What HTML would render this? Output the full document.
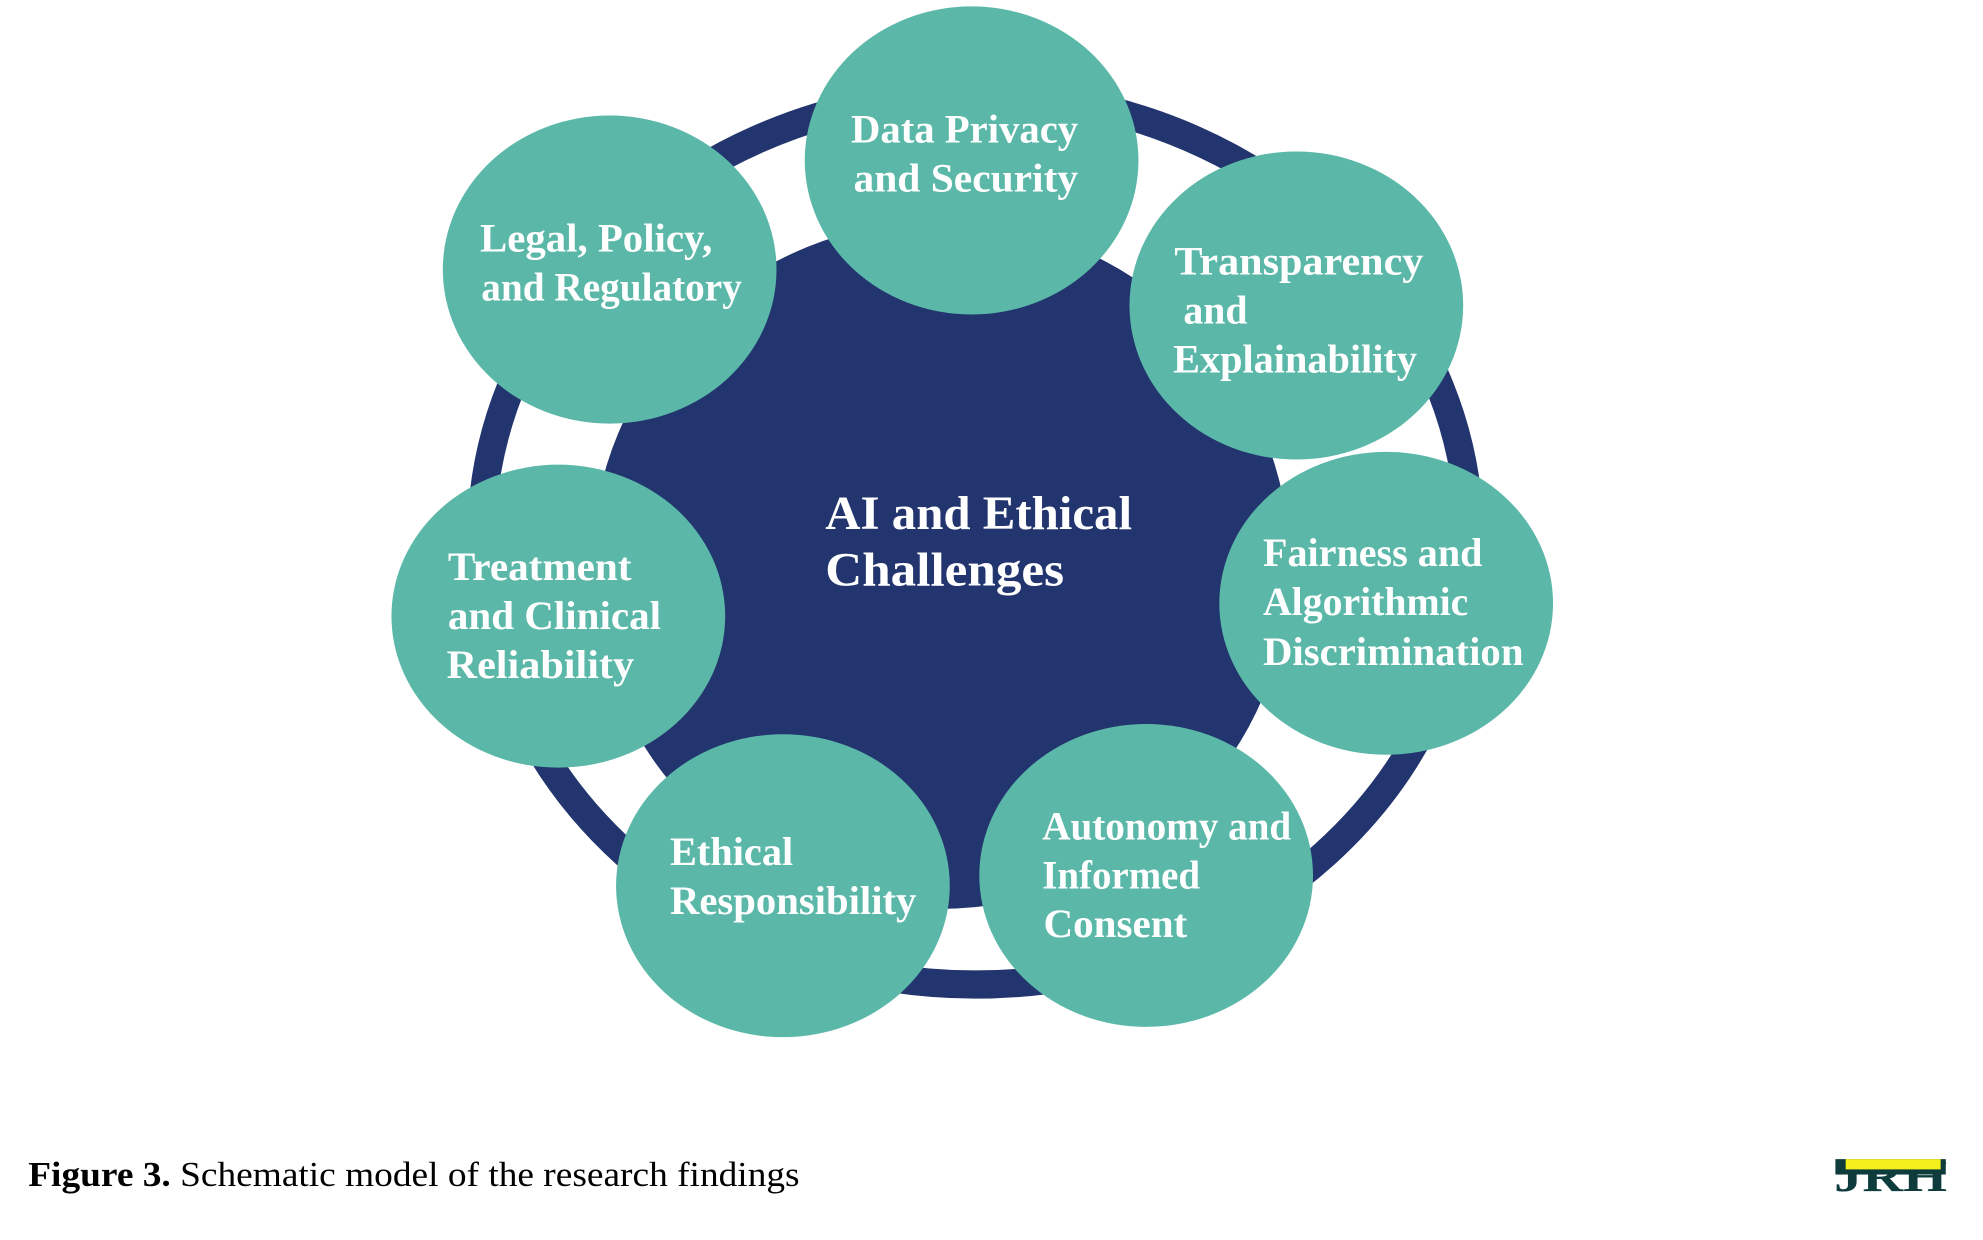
<!DOCTYPE html>
<html><head><meta charset="utf-8"><style>
html,body{margin:0;padding:0;background:#fff;}
svg{display:block;}
</style></head><body>
<svg width="1983" height="1240" viewBox="0 0 1545 966" preserveAspectRatio="none" xmlns="http://www.w3.org/2000/svg">
<rect width="1545" height="966" fill="#fff"/>
<ellipse cx="760" cy="420" rx="385" ry="347" fill="none" stroke="#22356f" stroke-width="22"/>
<ellipse cx="733" cy="440" rx="272" ry="268" fill="#22356f"/>
<g fill="#5bb8a8">
<ellipse cx="757" cy="125" rx="130" ry="120"/>
<ellipse cx="475" cy="210" rx="130" ry="120"/>
<ellipse cx="1010" cy="238" rx="130" ry="120"/>
<ellipse cx="435" cy="480" rx="130" ry="118"/>
<ellipse cx="1080" cy="470" rx="130" ry="118"/>
<ellipse cx="610" cy="690" rx="130" ry="118"/>
<ellipse cx="893" cy="682" rx="130" ry="118"/>
</g>
<g fill="#fff" font-family="Liberation Serif, serif" font-weight="bold" font-size="31" lengthAdjust="spacingAndGlyphs">
<text x="663" y="111" textLength="177" lengthAdjust="spacingAndGlyphs">Data Privacy</text>
<text x="665" y="149" textLength="175" lengthAdjust="spacingAndGlyphs">and Security</text>
<text x="374" y="196" textLength="181" lengthAdjust="spacingAndGlyphs">Legal, Policy,</text>
<text x="375" y="234" textLength="203" lengthAdjust="spacingAndGlyphs">and Regulatory</text>
<text x="915" y="214" textLength="194" lengthAdjust="spacingAndGlyphs">Transparency</text>
<text x="922" y="252">and</text>
<text x="914" y="290" textLength="190" lengthAdjust="spacingAndGlyphs">Explainability</text>
<text x="349" y="452" textLength="143" lengthAdjust="spacingAndGlyphs">Treatment</text>
<text x="349" y="490" textLength="166" lengthAdjust="spacingAndGlyphs">and Clinical</text>
<text x="348" y="528" textLength="146" lengthAdjust="spacingAndGlyphs">Reliability</text>
<text x="984" y="441" textLength="171" lengthAdjust="spacingAndGlyphs">Fairness and</text>
<text x="984" y="479" textLength="160" lengthAdjust="spacingAndGlyphs">Algorithmic</text>
<text x="984" y="518" textLength="203" lengthAdjust="spacingAndGlyphs">Discrimination</text>
<text x="522" y="674" textLength="96" lengthAdjust="spacingAndGlyphs">Ethical</text>
<text x="522" y="712" textLength="192" lengthAdjust="spacingAndGlyphs">Responsibility</text>
<text x="812" y="654" textLength="194" lengthAdjust="spacingAndGlyphs">Autonomy and</text>
<text x="812" y="692" textLength="123" lengthAdjust="spacingAndGlyphs">Informed</text>
<text x="813" y="730" textLength="112" lengthAdjust="spacingAndGlyphs">Consent</text>
<text x="643" y="412" font-size="37" textLength="239" lengthAdjust="spacingAndGlyphs">AI and Ethical</text>
<text x="643" y="456" font-size="37" textLength="186" lengthAdjust="spacingAndGlyphs">Challenges</text>
</g>
<text x="22" y="924" font-family="Liberation Serif, serif" font-size="27" fill="#000" textLength="601" lengthAdjust="spacingAndGlyphs"><tspan font-weight="bold">Figure 3.</tspan> Schematic model of the research findings</text>
<rect x="1430" y="903" width="86" height="12" fill="#0e3b3b"/>
<text x="1429" y="928" font-family="Liberation Serif, serif" font-weight="bold" font-size="34" fill="#0e3b3b" textLength="88" lengthAdjust="spacingAndGlyphs">JRH</text>
<rect x="1438" y="903" width="74" height="8" fill="#f4ee1a"/>
</svg>
</body></html>
